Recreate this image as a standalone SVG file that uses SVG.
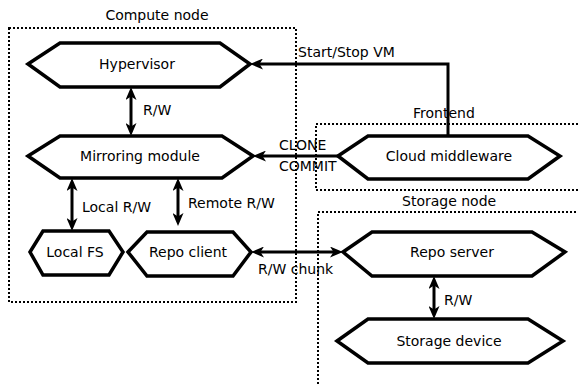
<svg xmlns="http://www.w3.org/2000/svg" width="578" height="386" viewBox="0 0 578 386">
<defs>
<style>
text{font-family:"DejaVu Sans","Liberation Sans",sans-serif;font-size:14px;fill:#000}
.c{text-anchor:middle}
.hex{fill:#fff;stroke:#000;stroke-width:3.5;stroke-linejoin:miter}
.box{fill:none;stroke:#000;stroke-width:2;stroke-dasharray:2,2}
.ln{fill:none;stroke:#000;stroke-width:3}
.a1{marker-end:url(#ah)}
.a2{marker-start:url(#ah);marker-end:url(#ah)}
</style>
<marker id="ah" markerUnits="userSpaceOnUse" markerWidth="13" markerHeight="11" viewBox="0 0 13 11" refX="6" refY="5.5" orient="auto-start-reverse">
<path d="M0,0 L13,5.5 L0,11 L3.5,5.5 z" fill="#000"/>
</marker>
</defs>
<g id="compute-node">
<rect class="box" x="9" y="28" width="287" height="274"/>
<text class="c" x="157" y="20">Compute node</text>
</g>
<g id="frontend">
<rect class="box" x="316" y="124" width="270" height="66"/>
<text x="413" y="118">Frontend</text>
</g>
<g id="storage-node">
<rect class="box" x="318" y="212" width="270" height="190"/>
<text x="402" y="206">Storage node</text>
</g>
<g id="connectors">
<path class="ln a1" d="M448,136 V64 H257"/>
<path class="ln a1" d="M338,156 H260"/>
<path class="ln a2" d="M258,252 H336"/>
<path class="ln a2" d="M131,94 V129"/>
<path class="ln a2" d="M72,185 V224"/>
<path class="ln a2" d="M178,185 V219"/>
<path class="ln a2" d="M434,283 V312"/>
<text x="298" y="57">Start/Stop VM</text>
<text x="279" y="150">CLONE</text>
<text x="279" y="171">COMMIT</text>
<text x="258" y="274">R/W chunk</text>
<text x="143" y="115">R/W</text>
<text x="82" y="212">Local R/W</text>
<text x="188" y="208">Remote R/W</text>
<text x="444" y="305">R/W</text>
</g>
<g id="hypervisor">
<polygon class="hex" points="28,64 60,43 220,43 250,64 220,87 60,87"/>
<text class="c" x="137" y="69">Hypervisor</text>
</g>
<g id="mirroring-module">
<polygon class="hex" points="28,156 60,136 222,136 253,156 222,178 60,178"/>
<text class="c" x="140" y="161">Mirroring module</text>
</g>
<g id="cloud-middleware">
<polygon class="hex" points="338,156 368,136 528,136 560,156 528,179 368,179"/>
<text class="c" x="449" y="161">Cloud middleware</text>
</g>
<g id="local-fs">
<polygon class="hex" points="30,252 43,231 109,231 123,252 109,275 43,275"/>
<text class="c" x="75" y="257">Local FS</text>
</g>
<g id="repo-client">
<polygon class="hex" points="128,252 147,232 233,232 251,252 233,276 147,276"/>
<text class="c" x="188" y="257">Repo client</text>
</g>
<g id="repo-server">
<polygon class="hex" points="343,252 372,232 532,232 565,252 532,276 372,276"/>
<text class="c" x="452" y="257">Repo server</text>
</g>
<g id="storage-device">
<polygon class="hex" points="337,341 368,319 528,319 563,341 528,363 368,363"/>
<text class="c" x="449" y="346">Storage device</text>
</g>
</svg>
